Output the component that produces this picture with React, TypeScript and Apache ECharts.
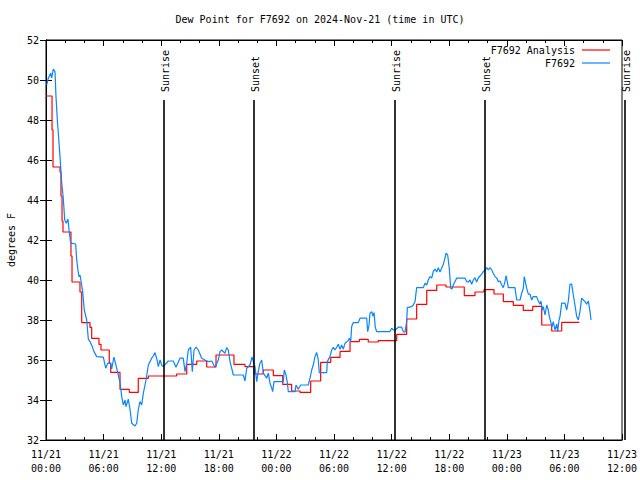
import React, { useEffect, useRef } from "react";
import * as echarts from "echarts";

const titleText = "Dew Point for F7692 on 2024-Nov-21 (time in UTC)";
const yAxisTitle = "degrees F";
const seriesNames = ["F7692 Analysis", "F7692"];
const seriesColors = ["#ff0000", "#0a84ff"];

// hours since 11/21 00:00 UTC
const analysisHours = [0, 0.63, 0.73, 1.46, 1.56, 1.67, 1.77, 2.6, 2.71, 3.54, 3.72, 4.58, 4.76, 5.52, 5.73, 6.59, 6.74, 7.71, 8.68, 9.61, 10.66, 13.61, 14.66, 15.7, 16.74, 17.71, 19.58, 20.73, 21.67, 22.64, 23.68, 24.66, 25.59, 26.46, 27.57, 28.61, 29.66, 30.63, 31.67, 32.64, 33.57, 34.61, 36.53, 37.57, 38.61, 39.66, 40.7, 41.67, 43.57, 44.69, 45.63, 46.67, 47.64, 48.68, 49.72, 50.7, 51.64, 52.68, 53.72, 55.55];
const analysisValues = [49.2, 47.5, 45.65, 45.4, 44.2, 42.95, 42.4, 41.2, 39.9, 39.4, 37.87, 37.63, 37.08, 36.78, 36.5, 35.83, 35.38, 34.53, 34.38, 35.08, 35.2, 35.3, 35.78, 35.95, 35.65, 36.25, 35.78, 35.67, 35.3, 35.5, 35.22, 34.78, 34.45, 34.38, 34.95, 35.88, 36.13, 36.43, 36.92, 37.03, 36.9, 36.97, 37.28, 38.05, 38.78, 39.48, 39.75, 39.65, 39.22, 39.4, 39.52, 39.3, 38.92, 38.73, 38.48, 38.68, 37.75, 37.45, 37.88, 37.88];

const obsHours = [0.07, 0.24, 0.49, 0.59, 0.76, 0.94, 1.04, 1.18, 1.32, 1.46, 1.64, 1.8, 1.95, 2.11, 2.29, 2.4, 2.57, 3.09, 3.2, 3.33, 3.44, 3.54, 3.72, 3.82, 3.99, 4.24, 4.41, 4.58, 4.82, 5.0, 5.28, 5.97, 6.22, 6.43, 6.74, 6.84, 7.08, 7.36, 7.53, 7.71, 7.89, 8.05, 8.23, 8.33, 8.57, 8.75, 8.93, 9.27, 9.45, 9.61, 9.79, 9.97, 10.14, 10.42, 10.66, 11.01, 11.18, 11.35, 11.53, 11.7, 11.88, 12.05, 12.22, 12.74, 13.26, 13.54, 13.96, 14.3, 14.48, 14.66, 14.82, 15.07, 15.24, 15.42, 15.63, 15.86, 16.22, 16.56, 16.91, 17.26, 17.6, 17.95, 18.13, 18.3, 18.65, 18.82, 18.99, 19.17, 19.34, 19.51, 20.55, 20.73, 20.91, 21.25, 21.46, 21.77, 21.95, 22.11, 22.29, 22.47, 22.64, 22.99, 23.16, 23.33, 23.51, 23.61, 23.75, 24.72, 24.82, 25.0, 25.14, 25.24, 25.94, 26.04, 26.28, 26.53, 27.32, 27.5, 27.68, 27.84, 28.02, 28.2, 28.36, 28.47, 29.24, 29.3, 29.58, 29.76, 29.93, 30.1, 30.28, 30.45, 30.63, 30.8, 30.97, 31.15, 31.49, 31.59, 31.74, 31.84, 32.01, 32.53, 32.71, 33.41, 33.51, 33.65, 33.75, 33.93, 34.06, 34.17, 34.3, 34.45, 35.83, 36.01, 36.18, 36.39, 36.7, 37.05, 37.22, 37.4, 37.57, 37.64, 38.09, 38.26, 38.44, 38.61, 39.3, 39.48, 39.66, 39.82, 40.0, 40.18, 40.34, 40.52, 40.7, 40.86, 41.04, 41.22, 41.39, 41.56, 41.67, 41.84, 42.01, 42.16, 42.29, 42.43, 42.6, 42.78, 43.65, 43.82, 43.99, 44.17, 44.34, 44.51, 44.69, 44.86, 45.03, 45.21, 45.39, 45.55, 45.73, 45.91, 46.07, 46.25, 46.43, 46.59, 46.77, 46.95, 47.11, 47.29, 47.47, 47.64, 47.81, 47.92, 48.05, 48.16, 48.85, 49.03, 49.38, 49.55, 49.72, 49.82, 49.93, 50.07, 50.24, 50.42, 50.59, 50.76, 51.11, 51.28, 51.46, 51.56, 51.7, 51.8, 51.98, 52.16, 52.32, 52.43, 52.57, 52.71, 52.84, 53.02, 53.2, 53.3, 53.44, 53.54, 53.72, 54.06, 54.24, 54.41, 54.58, 54.76, 54.93, 55.1, 55.28, 55.45, 55.63, 55.8, 55.97, 56.15, 56.32, 56.49, 56.67, 56.77];
const obsValues = [49.75, 50.09, 50.34, 50.1, 50.54, 50.42, 49.17, 48.0, 47.09, 46.17, 44.84, 44.09, 43.0, 42.84, 43.05, 42.5, 41.84, 41.8, 41.0, 40.5, 40.17, 40.25, 39.75, 39.42, 38.5, 38.0, 37.04, 36.92, 36.67, 36.42, 36.17, 36.14, 35.59, 35.84, 35.84, 35.55, 36.14, 35.59, 35.25, 34.87, 34.17, 33.75, 34.0, 33.67, 34.04, 33.54, 32.84, 32.7, 32.84, 33.5, 33.92, 33.75, 34.34, 35.0, 35.75, 36.09, 36.2, 36.37, 36.09, 35.67, 36.0, 35.75, 35.67, 35.95, 35.95, 35.64, 36.09, 36.09, 35.42, 35.85, 36.5, 36.64, 35.42, 36.5, 36.64, 36.5, 36.09, 36.0, 35.92, 35.95, 35.64, 36.0, 36.42, 36.5, 36.34, 36.62, 36.5, 35.92, 35.59, 35.25, 35.25, 34.95, 35.59, 35.75, 36.15, 35.67, 34.92, 35.42, 35.84, 36.0, 35.34, 35.09, 35.35, 34.84, 34.6, 34.42, 34.92, 34.92, 35.5, 35.25, 34.87, 34.42, 34.42, 34.75, 34.54, 34.75, 34.75, 35.09, 35.5, 35.75, 36.17, 36.37, 36.0, 35.37, 35.37, 35.92, 36.17, 36.5, 36.64, 36.5, 36.64, 36.79, 36.54, 36.75, 36.54, 36.84, 36.97, 37.09, 36.92, 37.67, 37.87, 37.87, 38.09, 38.09, 37.42, 37.75, 38.34, 38.42, 38.2, 38.37, 37.64, 37.42, 37.42, 37.59, 37.5, 37.5, 37.64, 37.64, 37.42, 37.39, 37.92, 38.62, 38.67, 38.75, 38.92, 39.62, 39.62, 39.84, 39.75, 40.0, 40.17, 40.1, 40.42, 40.55, 40.4, 40.62, 40.4, 40.6, 40.79, 41.09, 41.34, 41.25, 40.59, 39.59, 39.55, 39.75, 39.92, 40.09, 40.09, 39.92, 39.9, 40.0, 39.79, 40.0, 40.12, 39.9, 40.1, 40.2, 40.29, 40.42, 40.5, 40.62, 40.5, 40.62, 40.5, 40.34, 40.17, 40.1, 39.92, 39.95, 39.75, 39.62, 39.92, 40.22, 39.92, 39.62, 39.62, 39.0, 39.0, 39.34, 39.59, 40.17, 39.92, 39.59, 39.29, 39.29, 39.0, 39.17, 39.17, 38.95, 38.79, 38.95, 38.5, 38.67, 38.25, 38.75, 38.5, 38.17, 37.92, 37.67, 37.92, 37.5, 37.79, 37.42, 38.0, 38.17, 38.84, 38.84, 38.5, 38.95, 39.79, 39.79, 39.25, 38.75, 38.17, 38.0, 38.45, 39.09, 39.0, 38.92, 38.79, 38.95, 38.42, 38.0];

const sunHours = [12.3, 21.67, 36.35, 45.68, 60.33];
const sunLabels = ["Sunrise", "Sunset", "Sunrise", "Sunset", "Sunrise"];
const sunLineTopValue = 49;

const xMin = 0;
const xMax = 60;
const xInterval = 6;
const yMin = 32;
const yMax = 52;
const yInterval = 2;
const startDay = 21;
const monthLabel = "11";

const FONT = "DejaVu Sans Mono";

function fmtHour(h: number): string {
  const day = startDay + Math.floor(h / 24);
  const hh = Math.round(h % 24);
  return monthLabel + "/" + String(day) + "\n" + String(hh).padStart(2, "0") + ":00";
}

export default function App() {
  const ref = useRef<HTMLDivElement>(null);
  useEffect(() => {
    if (!ref.current) return;
    const chart = echarts.init(ref.current, null, { renderer: "svg" });
    const analysisData = analysisHours.map((h, i) => [h, analysisValues[i]]);
    const obsData = obsHours.map((h, i) => [h, obsValues[i]]);
    const axisLine = { show: true, lineStyle: { color: "#000", width: 1 } };
    const option: any = {
      animation: false,
      backgroundColor: "#fff",
      title: {
        text: titleText,
        left: "center",
        top: 8,
        padding: 5,
        textStyle: { fontFamily: FONT, fontSize: 10, fontWeight: "normal", color: "#000", lineHeight: 12 },
      },
      grid: {
        left: 46,
        right: 18,
        top: 40,
        bottom: 40,
        containLabel: false,
        outerBoundsMode: "none",
        show: true,
        borderColor: "#000",
        borderWidth: 1,
      },
      xAxis: [
        {
          type: "value",
          min: xMin,
          max: xMax,
          interval: xInterval,
          position: "bottom",
          axisLine,
          splitLine: { show: false },
          axisTick: { show: true, inside: true, length: 6, lineStyle: { color: "#000" } },
          minorTick: { show: true, splitNumber: 3, length: 3, lineStyle: { color: "#000" } },
          axisLabel: {
            formatter: (v: number) => fmtHour(v),
            fontFamily: FONT,
            fontSize: 10,
            color: "#000",
            lineHeight: 14,
            margin: 7,
          },
        },
        {
          type: "value",
          min: xMin,
          max: xMax,
          interval: xInterval,
          position: "top",
          axisLine,
          splitLine: { show: false },
          axisTick: { show: true, inside: true, length: 6, lineStyle: { color: "#000" } },
          minorTick: { show: true, splitNumber: 3, length: 3, lineStyle: { color: "#000" } },
          axisLabel: { show: false },
        },
      ],
      yAxis: [
        {
          type: "value",
          min: yMin,
          max: yMax,
          interval: yInterval,
          position: "left",
          name: yAxisTitle,
          nameLocation: "middle",
          nameGap: 30,
          nameTextStyle: { fontFamily: FONT, fontSize: 10, color: "#000" },
          axisLine,
          splitLine: { show: false },
          axisTick: { show: true, inside: true, length: 6, lineStyle: { color: "#000" } },
          axisLabel: { fontFamily: FONT, fontSize: 10, color: "#000", margin: 7 },
        },
        {
          type: "value",
          min: yMin,
          max: yMax,
          interval: yInterval,
          position: "right",
          axisLine,
          splitLine: { show: false },
          axisTick: { show: true, inside: true, length: 6, lineStyle: { color: "#000" } },
          axisLabel: { show: false },
        },
      ],
      series: [
        {
          name: seriesNames[0],
          type: "line",
          step: "end",
          data: analysisData,
          showSymbol: false,
          symbol: "none",
          lineStyle: { color: seriesColors[0], width: 1.2 },
          z: 2,
        },
        {
          name: seriesNames[1],
          type: "line",
          data: obsData,
          showSymbol: false,
          symbol: "none",
          lineStyle: { color: seriesColors[1], width: 1.2 },
          z: 3,
        },
      ],
    };
    chart.setOption(option);

    const yTop = chart.convertToPixel({ yAxisIndex: 0 }, sunLineTopValue) as number;
    const yBot = chart.convertToPixel({ yAxisIndex: 0 }, yMin) as number;
    const graphics: any[] = [];
    sunHours.forEach((h, i) => {
      const x = Math.round(chart.convertToPixel({ xAxisIndex: 0 }, h) as number);
      graphics.push({
        type: "line",
        shape: { x1: x, y1: yTop, x2: x, y2: yBot },
        style: { stroke: "#000", lineWidth: 1.6 },
        z: 10,
      });
      graphics.push({
        type: "text",
        x: x + 1,
        y: yTop - 8,
        rotation: Math.PI / 2,
        style: {
          text: sunLabels[i],
          font: "10px " + FONT,
          fill: "#000",
          align: "left",
          verticalAlign: "middle",
        },
        z: 10,
      });
    });
    // legend (top right)
    const legendRows = [50, 63];
    seriesNames.forEach((name, i) => {
      graphics.push({
        type: "text",
        x: 575,
        y: legendRows[i],
        style: { text: name, font: "10px " + FONT, fill: "#000", align: "right", verticalAlign: "middle" },
        z: 10,
      });
      graphics.push({
        type: "line",
        shape: { x1: 582, y1: legendRows[i], x2: 610, y2: legendRows[i] },
        style: { stroke: seriesColors[i], lineWidth: 1.2 },
        z: 10,
      });
    });
    chart.setOption({ graphic: graphics });

    return () => chart.dispose();
  }, []);
  return (
    <div
      ref={ref}
      style={{ position: "fixed", left: 0, top: 0, width: 640, height: 480, background: "#fff" }}
    />
  );
}
